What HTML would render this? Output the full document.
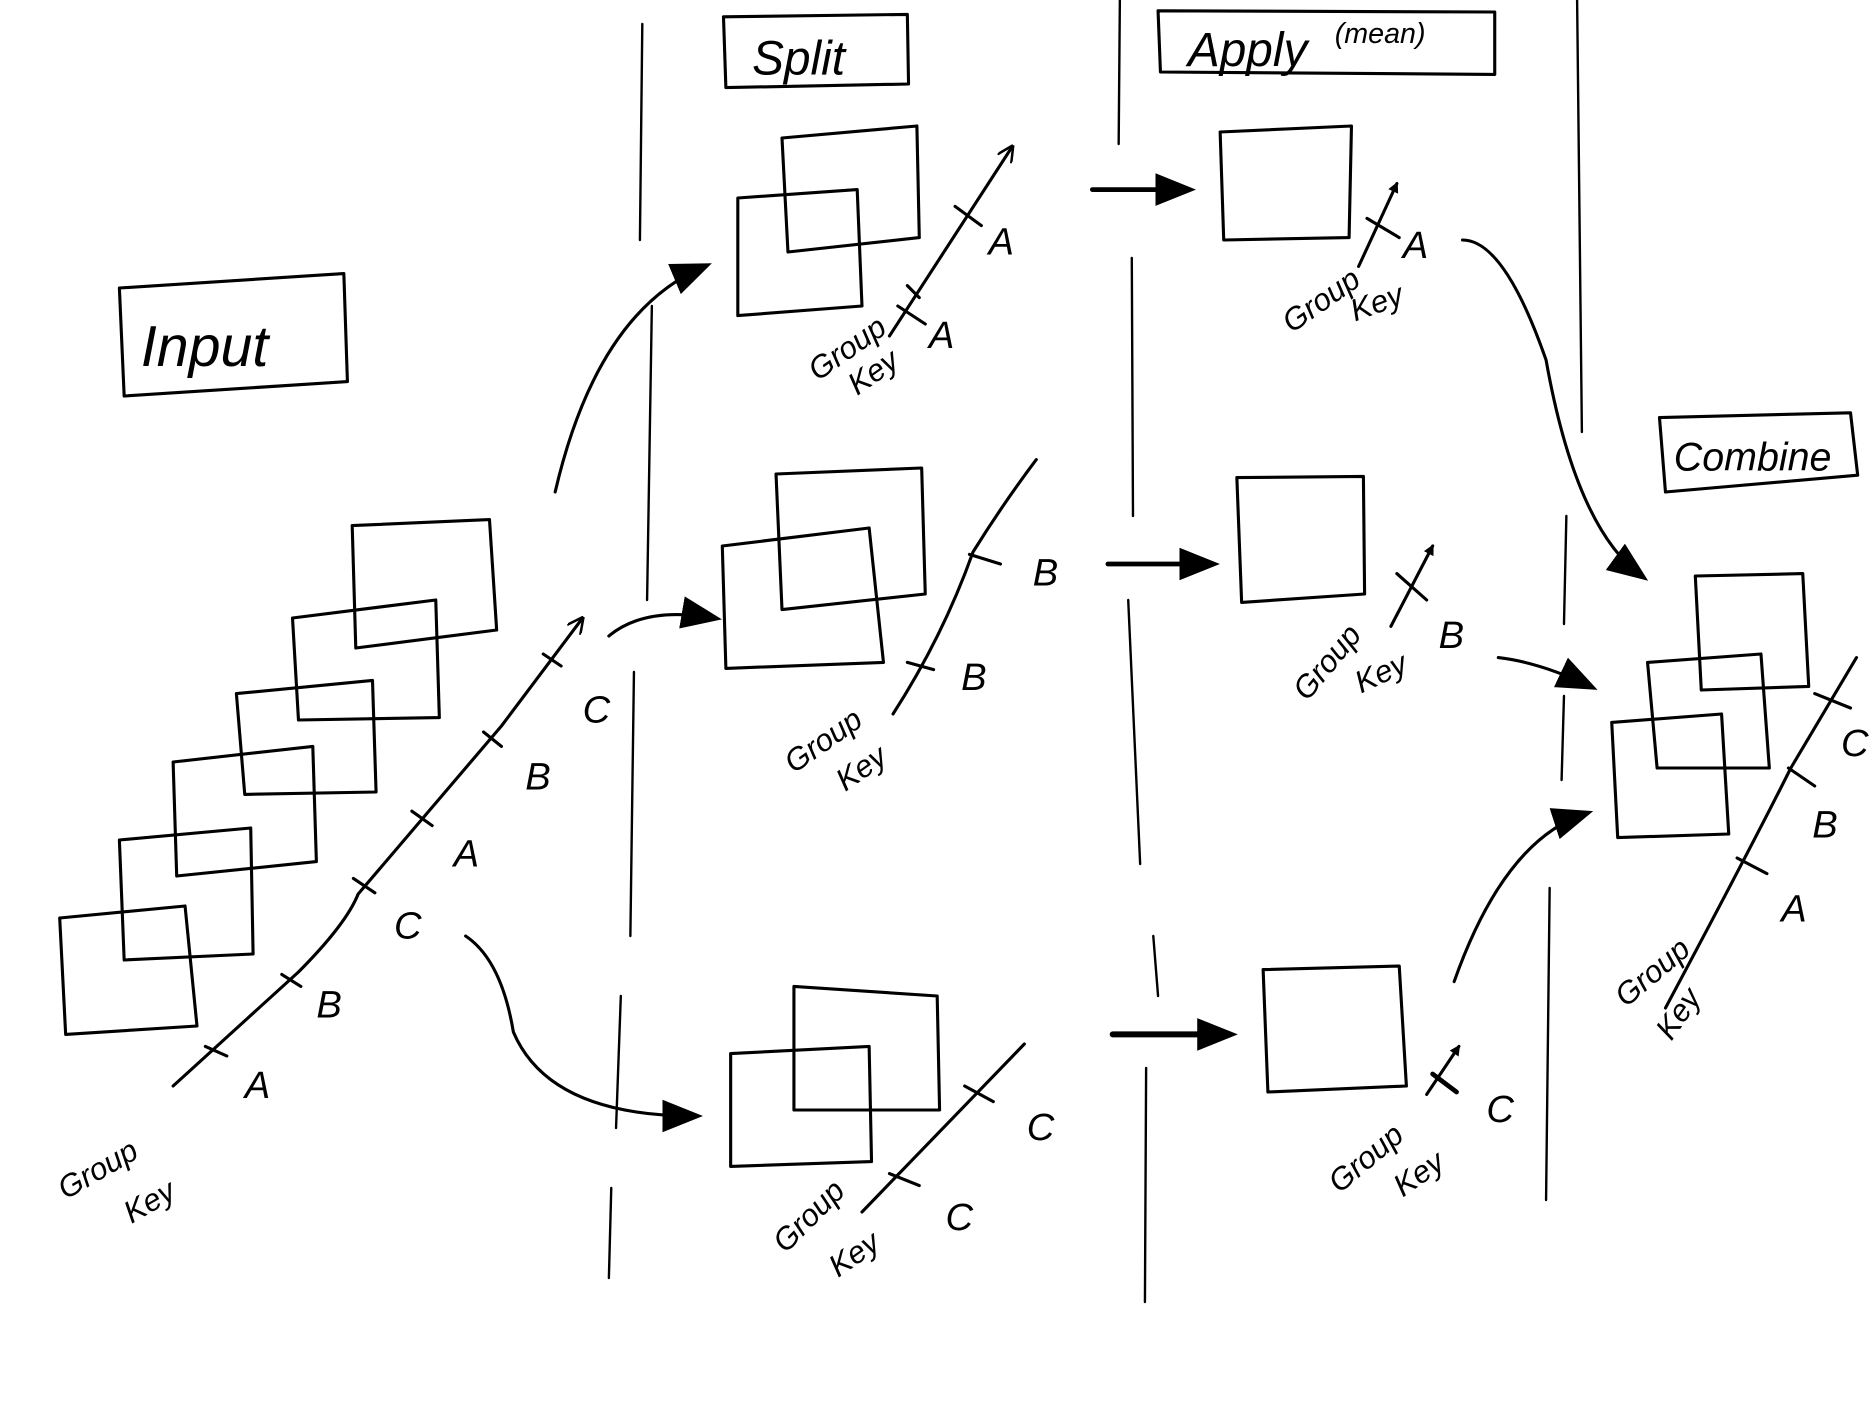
<!DOCTYPE html>
<html><head><meta charset="utf-8"><style>
html,body{margin:0;padding:0;background:#fff;width:1872px;height:1404px;overflow:hidden}
svg{display:block}
text{font-family:"Liberation Sans",sans-serif;font-style:italic;fill:#000}
</style></head><body>
<svg width="1872" height="1404" viewBox="0 0 1568 1170" preserveAspectRatio="none" xmlns="http://www.w3.org/2000/svg">
<defs>
<marker id="ah" viewBox="0 0 10 10" refX="8" refY="5" markerWidth="9" markerHeight="9" orient="auto-start-reverse" markerUnits="userSpaceOnUse">
<path d="M0,0 L10,5 L0,10 z" fill="#000"/></marker>
<marker id="ab" viewBox="0 0 10 10" refX="8" refY="5" markerWidth="34" markerHeight="34" orient="auto" markerUnits="userSpaceOnUse">
<path d="M0,1 L10,5 L0,9 z" fill="#000"/></marker>
<marker id="ao" viewBox="0 0 10 10" refX="9" refY="5" markerWidth="14" markerHeight="14" orient="auto" markerUnits="userSpaceOnUse">
<path d="M0,0 L10,5 L0,10" fill="none" stroke="#000" stroke-width="1.5"/></marker>
</defs>
<g fill="none" stroke="#000" stroke-width="2.6" stroke-linecap="round" stroke-linejoin="round">
<path stroke-width="2" d="M538,20 L536,200 M546,255 L542,500 M531,560 L528,780 M520,830 L516,940 M512,990 L510,1065"/>
<path stroke-width="2" d="M938,0 L937,120 M948,215 L949,430 M945,500 L955,720 M966,780 L970,830 M960,890 L959,1085"/>
<path stroke-width="2" d="M1321,0 L1325,360 M1312,430 L1310,520 M1310,580 L1308,650 M1298,740 L1295,1000"/>
<path d="M606,14 L760,12 L761,70 L608,73 Z"/>
<path d="M970,9 L1252,10 L1252,62 L972,60 Z"/>
<path d="M100,240 L288,228 L291,318 L104,330 Z"/>
<path d="M1390,348 L1550,344 L1556,396 L1395,410 Z"/>
<path d="M50,765 L155,755 L165,855 L55,862 Z"/>
<path d="M100,700 L210,690 L212,795 L104,800 Z"/>
<path d="M145,635 L262,622 L265,718 L148,730 Z"/>
<path d="M198,578 L312,567 L315,660 L205,662 Z"/>
<path d="M245,515 L365,500 L368,598 L250,600 Z"/>
<path d="M295,438 L410,433 L416,525 L298,540 Z"/>
<path d="M145,905 L250,810 Q290,770 300,745 L420,605 L488,515" marker-end="url(#ao)"/>
<path d="M172,872 L190,880 M236,812 L252,822 M296,732 L314,744 M345,676 L362,688 M405,610 L420,622 M455,545 L470,555"/>
<path d="M465,410 Q500,260 590,222" marker-end="url(#ab)"/>
<path d="M510,530 Q540,505 598,515" marker-end="url(#ab)"/>
<path d="M390,780 Q420,800 430,860 Q460,930 582,930" marker-end="url(#ab)"/>
<path d="M618,165 L718,158 L722,255 L618,263 Z"/>
<path d="M655,115 L768,105 L770,198 L660,210 Z"/>
<path d="M745,280 L848,122" marker-end="url(#ao)"/>
<path d="M800,172 L822,188 M752,255 L775,270 M760,238 L770,248"/>
<path d="M605,455 L728,440 L740,552 L608,557 Z"/>
<path d="M650,395 L772,390 L775,495 L655,508 Z"/>
<path d="M748,595 Q790,530 815,460 Q840,420 868,383"/>
<path d="M812,462 L838,470 M760,552 L782,558"/>
<path d="M612,878 L728,872 L730,968 L612,972 Z"/>
<path d="M665,822 L785,830 L787,925 L665,925 Z"/>
<path d="M722,1010 L858,870"/>
<path d="M808,905 L832,918 M745,978 L770,988"/>
<path stroke-width="4" d="M915,158 L995,158" marker-end="url(#ab)"/>
<path stroke-width="4" d="M928,470 L1015,470" marker-end="url(#ab)"/>
<path stroke-width="5" d="M932,862 L1030,862" marker-end="url(#ab)"/>
<path d="M1022,110 L1132,105 L1130,198 L1025,200 Z"/>
<path d="M1036,398 L1142,397 L1143,495 L1040,502 Z"/>
<path d="M1058,808 L1172,805 L1178,905 L1062,910 Z"/>
<path d="M1138,222 L1170,153" marker-end="url(#ah)"/>
<path d="M1145,182 L1172,198"/>
<path d="M1165,522 L1200,455" marker-end="url(#ah)"/>
<path d="M1170,478 L1195,500"/>
<path d="M1195,912 L1222,872" marker-end="url(#ah)"/>
<path stroke-width="4" d="M1200,895 L1220,910"/>
<path d="M1225,200 Q1260,200 1295,300 Q1320,440 1375,480" marker-end="url(#ab)"/>
<path d="M1255,548 Q1290,552 1332,572" marker-end="url(#ab)"/>
<path d="M1218,818 Q1260,700 1328,678" marker-end="url(#ab)"/>
<path d="M1350,602 L1442,595 L1448,695 L1355,698 Z"/>
<path d="M1380,552 L1475,545 L1482,640 L1388,640 Z"/>
<path d="M1420,480 L1510,478 L1515,572 L1425,575 Z"/>
<path d="M1395,840 Q1470,700 1500,640 Q1530,590 1555,548"/>
<path d="M1520,578 L1550,590 M1498,640 L1520,655 M1455,715 L1480,728"/>
</g>
<g font-size="38">
<text x="630" y="62" font-size="40">Split</text>
<text x="995" y="55" font-size="40">Apply</text>
<text x="1118" y="36" font-size="24">(mean)</text>
<text x="118" y="305" font-size="48">Input</text>
<text x="1402" y="392" font-size="33">Combine</text>
</g>
<g font-size="32">
<text x="205" y="915">A</text><text x="265" y="848">B</text><text x="330" y="782">C</text>
<text x="380" y="722">A</text><text x="440" y="658">B</text><text x="488" y="602">C</text>
<text x="828" y="212">A</text><text x="778" y="290">A</text>
<text x="865" y="488">B</text><text x="805" y="575">B</text>
<text x="860" y="950">C</text><text x="792" y="1025">C</text>
<text x="1175" y="215">A</text><text x="1205" y="540">B</text><text x="1245" y="935">C</text>
<text x="1492" y="768">A</text><text x="1518" y="698">B</text><text x="1542" y="630">C</text>
</g>
<g font-size="26">
<text transform="translate(55,1000) rotate(-30)">Group</text><text transform="translate(110,1020) rotate(-30)">Key</text>
<text transform="translate(685,318) rotate(-35)">Group</text><text transform="translate(718,330) rotate(-35)">Key</text>
<text transform="translate(665,645) rotate(-35)">Group</text><text transform="translate(708,660) rotate(-35)">Key</text>
<text transform="translate(658,1045) rotate(-45)">Group</text><text transform="translate(702,1065) rotate(-35)">Key</text>
<text transform="translate(1082,278) rotate(-35)">Group</text><text transform="translate(1135,268) rotate(-20)">Key</text>
<text transform="translate(1095,585) rotate(-50)">Group</text><text transform="translate(1140,578) rotate(-25)">Key</text>
<text transform="translate(1122,995) rotate(-40)">Group</text><text transform="translate(1175,998) rotate(-35)">Key</text>
<text transform="translate(1362,840) rotate(-40)">Group</text><text transform="translate(1400,868) rotate(-55)">Key</text>
</g>
</svg>
</body></html>
